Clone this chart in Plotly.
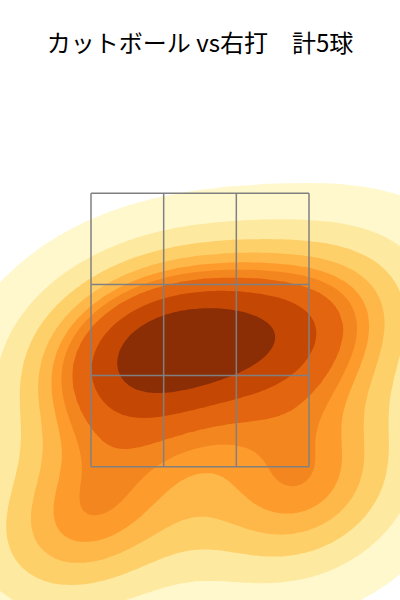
import numpy as np
import plotly.graph_objects as go

# pitch locations (horizontal, height) in feet – catcher's view
plate_x = [-0.64, 0.00, 0.90, -0.86, 0.79]
plate_z = [1.84, 1.95, 2.04, 0.60, 0.83]

# strike zone
zone_left, zone_right = -0.8175, 0.8175
zone_bottom, zone_top = 1.0, 3.05

title_text = "カットボール vs右打　計5球"

band_colors = ["#ffffff", "#fff8cd", "#fee9a0", "#fed06a", "#feb849",
               "#fd9b2c", "#f4861f", "#e4650f", "#c44804", "#8b2d05"]

# ---- gaussian KDE (Scott bandwidth), iso-proportion levels -----
data = np.vstack([plate_x, plate_z])
n = data.shape[1]
factor = n ** (-1.0 / 6)
cov = np.cov(data) * factor ** 2
inv = np.linalg.inv(cov)
bw = np.sqrt(np.diag(cov))
gx = np.linspace(min(plate_x) - 3 * bw[0], max(plate_x) + 3 * bw[0], 200)
gy = np.linspace(min(plate_z) - 3 * bw[1], max(plate_z) + 3 * bw[1], 200)
GX, GY = np.meshgrid(gx, gy)
dens = np.zeros_like(GX)
for px, pz in zip(plate_x, plate_z):
    dx = GX - px
    dy = GY - pz
    q = inv[0, 0] * dx * dx + 2 * inv[0, 1] * dx * dy + inv[1, 1] * dy * dy
    dens += np.exp(-0.5 * q)
dens /= dens.sum()

iso = np.linspace(0.05, 1, 10)
vals = np.sort(dens.ravel())[::-1]
cum = np.cumsum(vals) / vals.sum()
idx = np.searchsorted(cum, 1 - iso)
levels = np.take(vals, idx, mode="clip")
levels = np.sort(levels)
zmap = np.interp(dens, np.concatenate([[0.0], levels]), np.arange(-1, 10))

cs = [[k / 9, c] for k, c in enumerate(band_colors)]

fig = go.Figure()
fig.add_trace(go.Contour(
    x=gx, y=gy, z=zmap,
    autocontour=False,
    contours=dict(start=0, end=8, size=1, coloring="fill", showlines=False),
    colorscale=cs, showscale=False, line=dict(width=0),
    hoverinfo="skip",
))

xs = [zone_left, zone_left + (zone_right - zone_left) / 3,
      zone_left + 2 * (zone_right - zone_left) / 3, zone_right]
ys = [zone_bottom, zone_bottom + (zone_top - zone_bottom) / 3,
      zone_bottom + 2 * (zone_top - zone_bottom) / 3, zone_top]
for xv in xs:
    fig.add_shape(type="line", x0=xv, x1=xv, y0=zone_bottom, y1=zone_top,
                  line=dict(color="#808080", width=1.5))
for yv in ys:
    fig.add_shape(type="line", x0=zone_left, x1=zone_right, y0=yv, y1=yv,
                  line=dict(color="#808080", width=1.5))

fig.update_layout(
    width=400, height=600,
    margin=dict(l=0, r=0, t=100, b=0),
    paper_bgcolor="white", plot_bgcolor="white",
    title=dict(text=title_text, x=0.5, xanchor="center", y=0.928, yanchor="middle",
               font=dict(family="Noto Sans CJK JP", size=24, color="black")),
    xaxis=dict(range=[-1.5, 1.5], visible=False, showgrid=False, zeroline=False),
    yaxis=dict(range=[0, 3.75], visible=False, showgrid=False, zeroline=False),
    showlegend=False,
    hovermode=False,
)
fig.write_html("out.html", post_script="document.body.style.margin='0';",
               config={"displayModeBar": False})
